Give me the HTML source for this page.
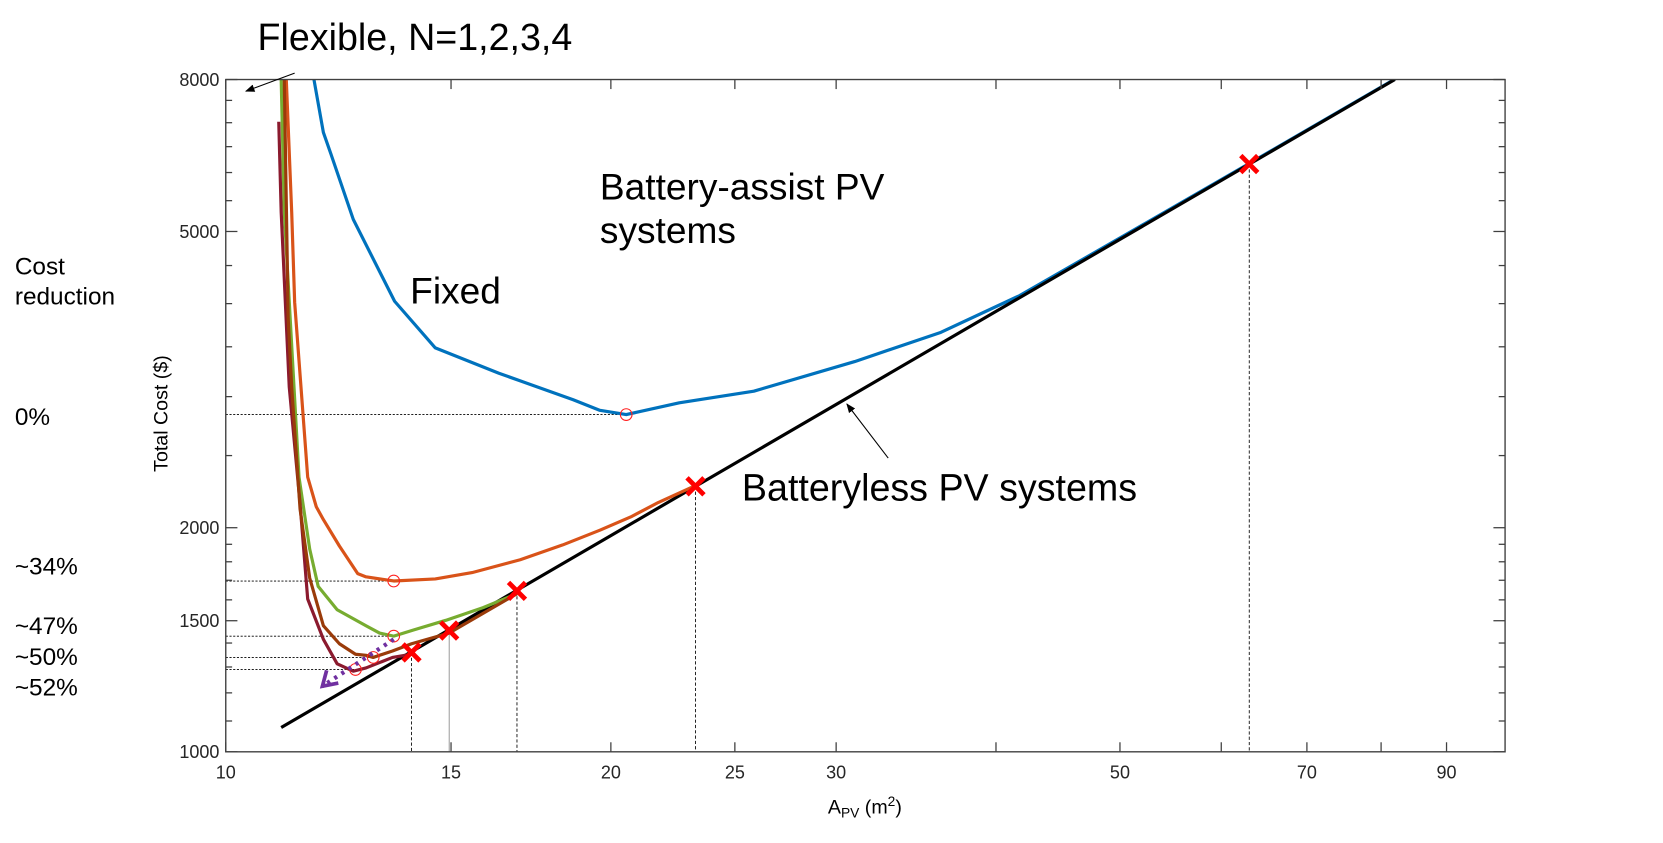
<!DOCTYPE html>
<html><head><meta charset="utf-8"><style>
html,body{margin:0;padding:0;background:#fff;}
svg{display:block;font-family:"Liberation Sans",Arial,sans-serif;}
</style></head><body>
<svg id="chart" width="1663" height="843" viewBox="0 0 1569 795" preserveAspectRatio="none" xmlns="http://www.w3.org/2000/svg">
<defs>
<clipPath id="clip"><rect x="213" y="75" width="1207" height="634"/></clipPath>
<marker id="ah" viewBox="0 0 10 10" refX="9" refY="5" markerWidth="9" markerHeight="9" orient="auto-start-reverse"><path d="M0,1 L10,5 L0,9 z" fill="#000"/></marker>
</defs>
<g id="plot"></g>
<g id="axes"></g>
<text x="0" y="0" font-size="18.5" text-anchor="middle" transform="translate(158,390) rotate(-90)">Total Cost ($)</text>
<text x="816" y="767" font-size="18.5" text-anchor="middle">A<tspan font-size="13" dy="4">PV</tspan><tspan dy="-4"> (m</tspan><tspan font-size="13" dy="-7">2</tspan><tspan dy="7">)</tspan></text>
<text x="243" y="47" font-size="35.5">Flexible, N=1,2,3,4</text>
<line x1="278" y1="69" x2="232" y2="86" stroke="#000" stroke-width="1" marker-end="url(#ah)"/>
<text x="566" y="188" font-size="35">Battery-assist PV</text>
<text x="566" y="229" font-size="35">systems</text>
<text x="387" y="286" font-size="35">Fixed</text>
<text x="700" y="472" font-size="35.5">Batteryless PV systems</text>
<line x1="838" y1="432" x2="799" y2="381" stroke="#000" stroke-width="1" marker-end="url(#ah)"/>
<text x="14" y="259" font-size="23">Cost</text>
<text x="14" y="287" font-size="23">reduction</text>
<text x="14" y="401" font-size="23">0%</text>
<text x="14" y="542" font-size="23">~34%</text>
<text x="14" y="598" font-size="23">~47%</text>
<text x="14" y="627" font-size="23">~50%</text>
<text x="14" y="656" font-size="23">~52%</text>
</svg>
<script>
const xTicks = [10,15,20,25,30,40,50,60,70,80,90];
const xTickLabels = ["10","15","20","25","30","","50","","70","","90"];
const yMajor = [1000,1500,2000,5000,8000];
const yMajorLabels = ["1000","1500","2000","5000","8000"];
const batterylessX = [11.05, 20, 40, 82];
const batterylessY = [1078, 1952, 3904, 8000];
const fixedX = [11.72,11.92,12.08,12.58,13.55,14.58,16.35,18.69,19.61,20.56,22.62,25.87,31.02,36.22,41.73,50.5,63.1,82];
const fixedY = [8000,6792,6360,5190,4030,3488,3225,2971,2875,2838,2943,3051,3343,3660,4100,4950,6170,8010];
const n1X = [11.15,11.26,11.32,11.59,11.77,11.92,12.27,12.68,12.87,13.53,14.58,15.58,16.99,18.34,19.61,20.77,21.78,23.29];
const n1Y = [8000,5310,4018,2339,2134,2051,1890,1735,1718,1696,1707,1741,1811,1896,1985,2071,2162,2279];
const n2X = [11.05,11.11,11.41,11.63,11.81,12.22,12.87,13.19,13.53,14.03,14.86,15.89,16.89];
const n2Y = [8000,5310,2339,1872,1668,1552,1477,1444,1430,1458,1502,1562,1631];
const n3X = [11.11,11.19,11.26,11.43,11.63,11.92,12.27,12.63,12.87,13.04,13.5,13.97,14.95,16.89];
const n3Y = [8000,3824,3090,2119,1712,1477,1397,1352,1348,1339,1366,1397,1444,1631];
const n4X = [11.0,11.05,11.21,11.43,11.59,11.92,12.22,12.58,12.87,13.5,13.97];
const n4Y = [7020,5310,3090,2154,1604,1416,1313,1283,1296,1339,1352];
const optX = [20.56,13.53,13.53,13.04,12.63];
const optY = [2838,1696,1430,1339,1290];
const crossX = [13.97,14.95,16.89,23.29,63.1];
const crossY = [1360,1455,1645,2273,6159];

const L=213,R=1420,T=75,B=709;
const xDec=(R-L)/Math.log10(100/10);
const yDec=(B-T)/Math.log10(8000/1000);
function sx(v){return L+xDec*Math.log10(v/10);}
function sy(v){return B-yDec*Math.log10(v/1000);}
const NS="http://www.w3.org/2000/svg";
const plot=document.getElementById('plot');
const axes=document.getElementById('axes');
function mk(tag,attrs,parent){const e=document.createElementNS(NS,tag);for(const k in attrs)e.setAttribute(k,attrs[k]);parent.appendChild(e);return e;}

for(let i=0;i<optX.length;i++){
  const l=mk('line',{x1:L,y1:sy(optY[i]),x2:sx(optX[i]),y2:sy(optY[i]),stroke:'#000','stroke-width':0.8,'stroke-dasharray':'2,1.5'},plot);
  
  
}
for(let i=0;i<crossX.length;i++){
  const l=mk('line',{x1:sx(crossX[i]),y1:sy(crossY[i]),x2:sx(crossX[i]),y2:B,stroke:i==1?'#888':'#000','stroke-width':0.8,'stroke-dasharray':i==1?'none':'3,2'},plot);
  
  
}
const g=mk('g',{'clip-path':'url(#clip)'},plot);
function series(xs,ys,color,w,name){
  const pts=xs.map((x,i)=>sx(x).toFixed(1)+','+sy(ys[i]).toFixed(1)).join(' ');
  const p=mk('polyline',{points:pts,fill:'none',stroke:color,'stroke-width':w,'stroke-linejoin':'round'},g);
  
  
}
series(fixedX,fixedY,'#0072BD',3,'fixed-series-line');
series(batterylessX,batterylessY,'#000',3,'batteryless-series-line');
series(n1X,n1Y,'#D95319',3,'flexible-n1-line');
series(n2X,n2Y,'#77AC30',3,'flexible-n2-line');
series(n4X,n4Y,'#8B1A2E',3,'flexible-n4-line');
series(n3X,n3Y,'#9A3B0A',3,'flexible-n3-line');

for(let i=0;i<optX.length;i++){
  const c=mk('circle',{cx:sx(optX[i]),cy:sy(optY[i]),r:5.5,fill:'none',stroke:'#FF2020','stroke-width':1},plot);
  
  
}
{
  const x1=sx(optX[2]),y1=sy(optY[2])+3,x2=sx(11.9),y2=sy(1225);
  const l=mk('line',{x1:x1,y1:y1,x2:x2,y2:y2,stroke:'#7030A0','stroke-width':4,'stroke-dasharray':'3,5'},plot);
  
  
  const a=mk('polyline',{points:`${x2+15},${y2-3} ${x2},${y2} ${x2+4},${y2-15}`,fill:'none',stroke:'#7030A0','stroke-width':3.5},plot);
  
  
}
for(let i=0;i<crossX.length;i++){
  const cx=sx(crossX[i]),cy=sy(crossY[i]),s=8;
  const p=mk('path',{d:`M${cx-s},${cy-s}L${cx+s},${cy+s}M${cx-s},${cy+s}L${cx+s},${cy-s}`,stroke:'#FF0000','stroke-width':4.5},plot);
  
  
}

const box=mk('rect',{x:L,y:T,width:R-L,height:B-T,fill:'none',stroke:'#404040','stroke-width':1.3},axes);


for(let i=0;i<xTicks.length;i++){
  const x=sx(xTicks[i]);
  mk('line',{x1:x,y1:B,x2:x,y2:B-9,stroke:'#404040','stroke-width':1.2},axes);
  mk('line',{x1:x,y1:T,x2:x,y2:T+9,stroke:'#404040','stroke-width':1.2},axes);
  if(xTickLabels[i]){
    const t=mk('text',{x:x,y:734,'font-size':17,'text-anchor':'middle',fill:'#262626'},axes);
    t.textContent=xTickLabels[i];
    
    
  }
}
const yMinor=[];
for(let v=1100;v<2000;v+=100) if(v!==1500) yMinor.push(v);
for(let v=2500;v<8000;v+=500) if(v!==5000) yMinor.push(v);
yMinor.forEach(v=>{
  const y=sy(v);
  mk('line',{x1:L,y1:y,x2:L+6,y2:y,stroke:'#404040','stroke-width':1.2},axes);
  mk('line',{x1:R,y1:y,x2:R-6,y2:y,stroke:'#404040','stroke-width':1.2},axes);
});
for(let i=0;i<yMajor.length;i++){
  const y=sy(yMajor[i]);
  mk('line',{x1:L,y1:y,x2:L+11,y2:y,stroke:'#404040','stroke-width':1.2},axes);
  mk('line',{x1:R,y1:y,x2:R-11,y2:y,stroke:'#404040','stroke-width':1.2},axes);
  const t=mk('text',{x:207,y:y+6,'font-size':17,'text-anchor':'end',fill:'#262626'},axes);
  t.textContent=yMajorLabels[i];
  
  
}
</script>
</body></html>
